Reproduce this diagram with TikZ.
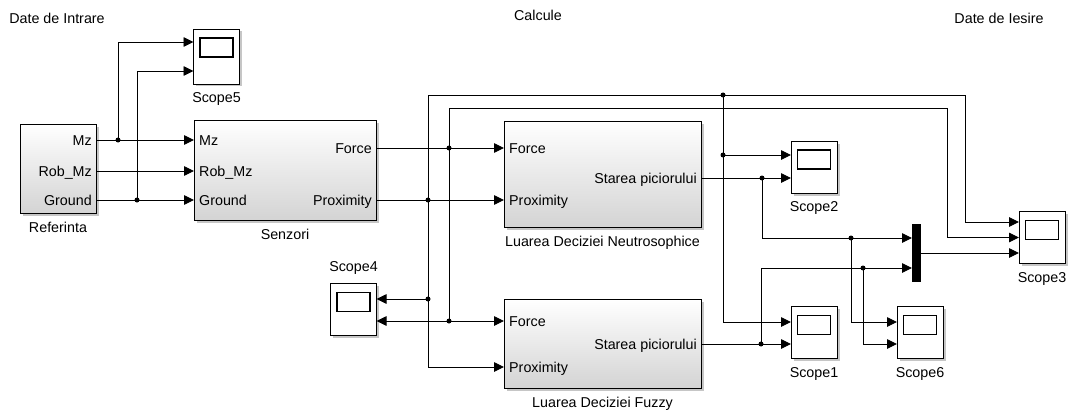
\documentclass[tikz,border=0pt]{standalone}
\usepackage{fontspec}
\setmainfont{Liberation Sans}
\usetikzlibrary{arrows.meta,positioning,calc,shadows}

\begin{document}
\begin{tikzpicture}[
  x=1pt, y=-1pt,
  font=\fontsize{14.3}{16}\selectfont,
  >={Triangle[length=10pt,width=9.5pt]},
  label distance=5.5pt,
  blk/.style={draw, line width=0.9pt, inner sep=0pt, outer sep=0pt,
              top color=white, bottom color=black!17,
              drop shadow={shadow xshift=2.5pt, shadow yshift=-2.5pt, opacity=.45}},
  scope/.style={draw, line width=0.9pt, fill=white, inner sep=0pt, outer sep=0pt,
                minimum width=46pt, minimum height=52pt,
                drop shadow={shadow xshift=2.5pt, shadow yshift=-2.5pt, opacity=.45},
                path picture={\draw[line width=1.3pt] (path picture bounding box.north)
                  ++(-16.5pt,-9pt) rectangle ++(33pt,-19pt);}},
  mux/.style={fill=black, inner sep=0pt, outer sep=0pt,
              minimum width=9pt, minimum height=58pt},
  portin/.style={anchor=west, inner xsep=5pt, inner ysep=0pt,
                 text height=10pt, text depth=0pt},
  portout/.style={anchor=east, inner xsep=4pt, inner ysep=0pt,
                  text height=10pt, text depth=0pt},
  lbl/.style={inner sep=3pt},
  wire/.style={line width=0.9pt},
  sig/.style={wire, ->},
]
% ---- titles -----------------------------------------------------------------
\useasboundingbox (0,0) rectangle (1069,412);
\node (tin)   at (57,18)  {Date de Intrare};
\node (tcalc) at (538,15) {Calcule};
\node (tout)  at (999,18) {Date de Iesire};

% ---- blocks -----------------------------------------------------------------
\node[blk, minimum width=76pt, minimum height=89pt,
      label={[lbl]below:Referinta}] (ref) at (58,168.5) {};
\node[blk, minimum width=182pt, minimum height=100pt,
      label={[lbl]below:Senzori}] (senz) at (285,170) {};
\node[blk, minimum width=197pt, minimum height=106pt,
      label={[lbl]below:Luarea Deciziei Neutrosophice}] (neut) at (602.5,174) {};
\node[blk, minimum width=197pt, minimum height=89pt,
      label={[lbl]below:Luarea Deciziei Fuzzy}] (fuzzy) at (602.5,343.5) {};

\node[scope, minimum height=55pt, label={[lbl]below:Scope5}] (s5) at (216.5,56.5) {};
\node[scope, label={[lbl]above:Scope4}] (s4) at (353.5,309.5) {};
\node[scope, label={[lbl]below:Scope2}] (s2) at (814,167) {};
\node[scope, label={[lbl]below:Scope1}] (s1) at (814,332.5) {};
\node[scope, label={[lbl]below:Scope6}] (s6) at (920,332.5) {};
\node[scope, label={[lbl]below:Scope3}] (s3) at (1042,237.5) {};
\node[mux] (mux) at (916.5,253) {};

% ---- ports ------------------------------------------------------------------
\node[portout] (rMz)     at (ref.east |- 0,140) {Mz};
\node[portout] (rRobMz)  at (ref.east |- 0,171) {Rob\_Mz};
\node[portout] (rGround) at (ref.east |- 0,200) {Ground};

\node[portin]  (sMz)     at (senz.west |- 0,140) {Mz};
\node[portin]  (sRobMz)  at (senz.west |- 0,171) {Rob\_Mz};
\node[portin]  (sGround) at (senz.west |- 0,200) {Ground};
\node[portout] (sForce)  at (senz.east |- 0,148) {Force};
\node[portout] (sProx)   at (senz.east |- 0,200) {Proximity};

\node[portin]  (nForce)  at (neut.west |- 0,148) {Force};
\node[portin]  (nProx)   at (neut.west |- 0,200) {Proximity};
\node[portout] (nOut)    at (neut.east |- 0,178) {Starea piciorului};

\node[portin]  (fForce)  at (fuzzy.west |- 0,321) {Force};
\node[portin]  (fProx)   at (fuzzy.west |- 0,367) {Proximity};
\node[portout] (fOut)    at (fuzzy.east |- 0,344) {Starea piciorului};

\coordinate (s5a) at (s5.west |- 0,42);
\coordinate (s5b) at (s5.west |- 0,71);
\coordinate (s4a) at (s4.east |- 0,299);
\coordinate (s4b) at (s4.east |- 0,321);
\coordinate (s2a) at (s2.west |- 0,155);
\coordinate (s2b) at (s2.west |- 0,178);
\coordinate (s1a) at (s1.west |- 0,322);
\coordinate (s1b) at (s1.west |- 0,344);
\coordinate (s6a) at (s6.west |- 0,322);
\coordinate (s6b) at (s6.west |- 0,344);
\coordinate (s3a) at (s3.west |- 0,222);
\coordinate (s3b) at (s3.west |- 0,237.5);
\coordinate (s3c) at (s3.west |- mux.east);
\coordinate (mxa) at (mux.west |- 0,238);
\coordinate (mxb) at (mux.west |- 0,268);

% ---- branch points and lanes ------------------------------------------------
\coordinate (j1)  at (118,140);
\coordinate (j2)  at (137,200);
\coordinate (j3)  at (449,148);
\coordinate (j4)  at (449,321);
\coordinate (j5)  at (428,200);
\coordinate (j6)  at (723,95);
\coordinate (j7)  at (723,155);
\coordinate (j8)  at (428,299);
\coordinate (j9)  at (762,178);
\coordinate (j10) at (851,238);
\coordinate (j11) at (761,344);
\coordinate (j12) at (863,268);
\coordinate (laneA) at (965,95);
\coordinate (laneB) at (947,108);

% ---- input signals ----------------------------------------------------------
\foreach \p in {Mz, RobMz, Ground}
  \draw[sig] (r\p.east) -- (s\p.west);
\draw[sig] (j1) |- (s5a);
\draw[sig] (j2) |- (s5b);

% ---- sensor outputs ---------------------------------------------------------
\draw[sig] (sForce.east) -- (nForce.west);
\draw[sig] (sProx.east)  -- (nProx.west);

% proximity: up to the outer lane, down to the fuzzy block
\draw[sig] (j5) |- (laneA) |- (s3a);
\draw[sig] (j6) |- (s1a);
\draw[sig] (j7) -- (s2a);
\draw[sig] (j5) |- (fProx.west);
\draw[sig] (j8) -- (s4a);

% force: up to the inner lane, down to the fuzzy block
\draw[sig] (j3) |- (laneB) |- (s3b);
\draw[wire] (j3) -- (j4);
\draw[sig] (j4) -- (fForce.west);
\draw[sig] (j4) -- (s4b);

% ---- decisions --------------------------------------------------------------
\draw[sig] (nOut.east) -- (s2b);
\draw[sig] (j9)  |- (mxa);
\draw[sig] (j10) |- (s6a);
\draw[sig] (fOut.east) -- (s1b);
\draw[sig] (j11) |- (mxb);
\draw[sig] (j12) |- (s6b);
\draw[sig] (mux.east) -- (s3c);

\foreach \j in {j1,j2,j3,j4,j5,j6,j7,j8,j9,j10,j11,j12}
  \fill (\j) circle (2.5pt);
\end{tikzpicture}
\end{document}
